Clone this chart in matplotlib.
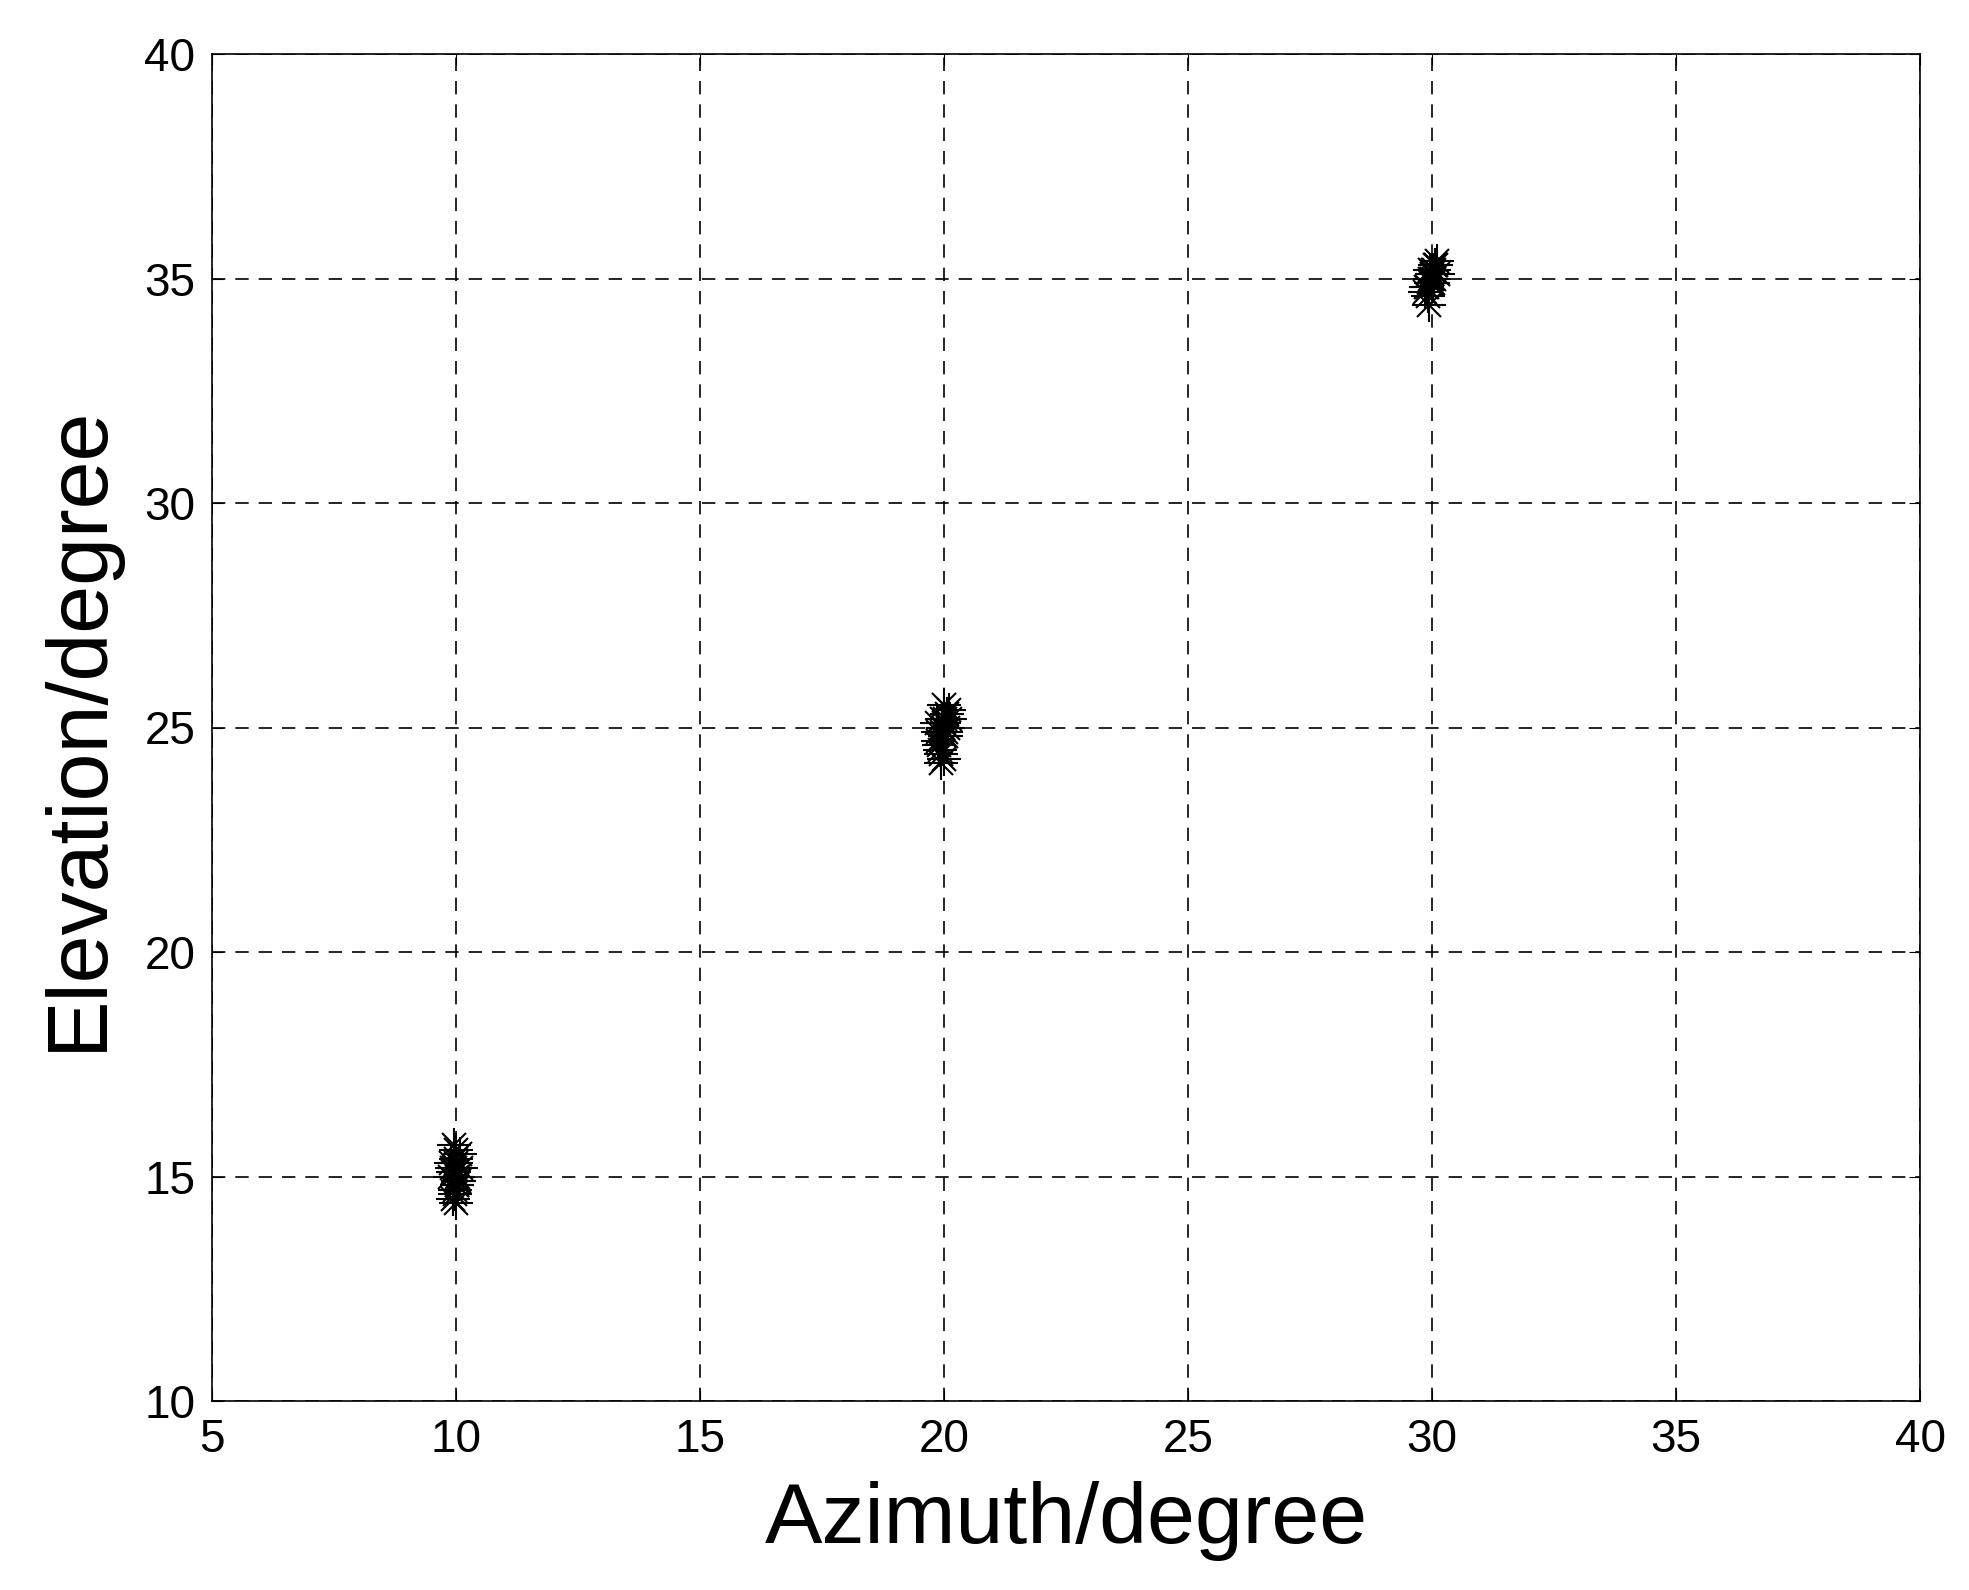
import matplotlib
matplotlib.use('Agg')
import matplotlib.pyplot as plt

plt.rcParams['font.family'] = ['Liberation Sans', 'DejaVu Sans']

# Estimated direction estimates around three sources
az1 = [9.95, 10.02, 9.90, 10.05, 9.98, 10.08, 9.92, 10.00, 9.96, 10.04, 9.88, 10.10, 9.97, 10.01, 9.94, 10.06, 9.99, 10.03, 9.93, 10.00, 9.97, 10.02]
el1 = [15.1, 14.8, 15.3, 15.0, 14.6, 15.5, 15.2, 14.4, 15.7, 14.9, 15.0, 15.2, 14.7, 15.4, 15.1, 14.9, 15.3, 15.0, 14.5, 15.6, 15.2, 14.8]
az2 = [19.95, 20.02, 19.88, 20.06, 19.92, 20.10, 19.98, 20.00, 19.85, 20.04, 19.96, 20.08, 19.90, 20.01, 19.94, 20.05, 19.99, 20.03, 19.93, 20.12, 19.97, 19.87]
el2 = [24.9, 25.2, 24.7, 25.3, 24.5, 25.4, 25.0, 24.3, 25.1, 24.8, 25.2, 25.0, 24.6, 25.5, 24.2, 24.9, 25.1, 24.8, 24.4, 25.2, 25.0, 24.9]
az3 = [29.95, 30.02, 29.90, 30.06, 29.98, 30.10, 29.92, 30.00, 29.85, 30.04, 29.96, 30.08, 29.93, 30.01, 29.97, 30.05, 29.88, 30.12, 29.99, 30.03]
el3 = [35.0, 35.2, 34.8, 35.3, 34.9, 35.4, 34.6, 35.1, 34.7, 35.0, 35.2, 35.3, 34.4, 35.1, 34.9, 35.2, 34.8, 35.1, 35.0, 34.9]

xticks = [5, 10, 15, 20, 25, 30, 35, 40]
yticks = [10, 15, 20, 25, 30, 35, 40]

fig = plt.figure(figsize=(19.69, 15.90), dpi=100)
ax = fig.add_axes([212/1969, 1-1401/1590, (1920-212)/1969, (1401-54)/1590])

for a, e in [(az1, el1), (az2, el2), (az3, el3)]:
    # MATLAB-style asterisk: plus and cross overlaid
    ax.plot(a, e, linestyle='none', marker='+', markersize=24, color='black', markeredgewidth=1.5)
    ax.plot(a, e, linestyle='none', marker='x', markersize=17, color='black', markeredgewidth=1.5)

ax.set_xlim(5, 40)
ax.set_ylim(10, 40)
ax.set_xticks(xticks)
ax.set_yticks(yticks)
ax.grid(True, color='black', linestyle=(0, (8, 6)), linewidth=1.2)
ax.tick_params(direction='in', length=8, labelsize=33, pad=12, top=True, right=True)
for s in ax.spines.values():
    s.set_linewidth(1.2)
ax.set_xlabel('Azimuth/degree', fontsize=62, labelpad=14)
ax.set_ylabel('Elevation/degree', fontsize=62, labelpad=18)

fig.savefig('out.png', dpi=100, facecolor='white')
